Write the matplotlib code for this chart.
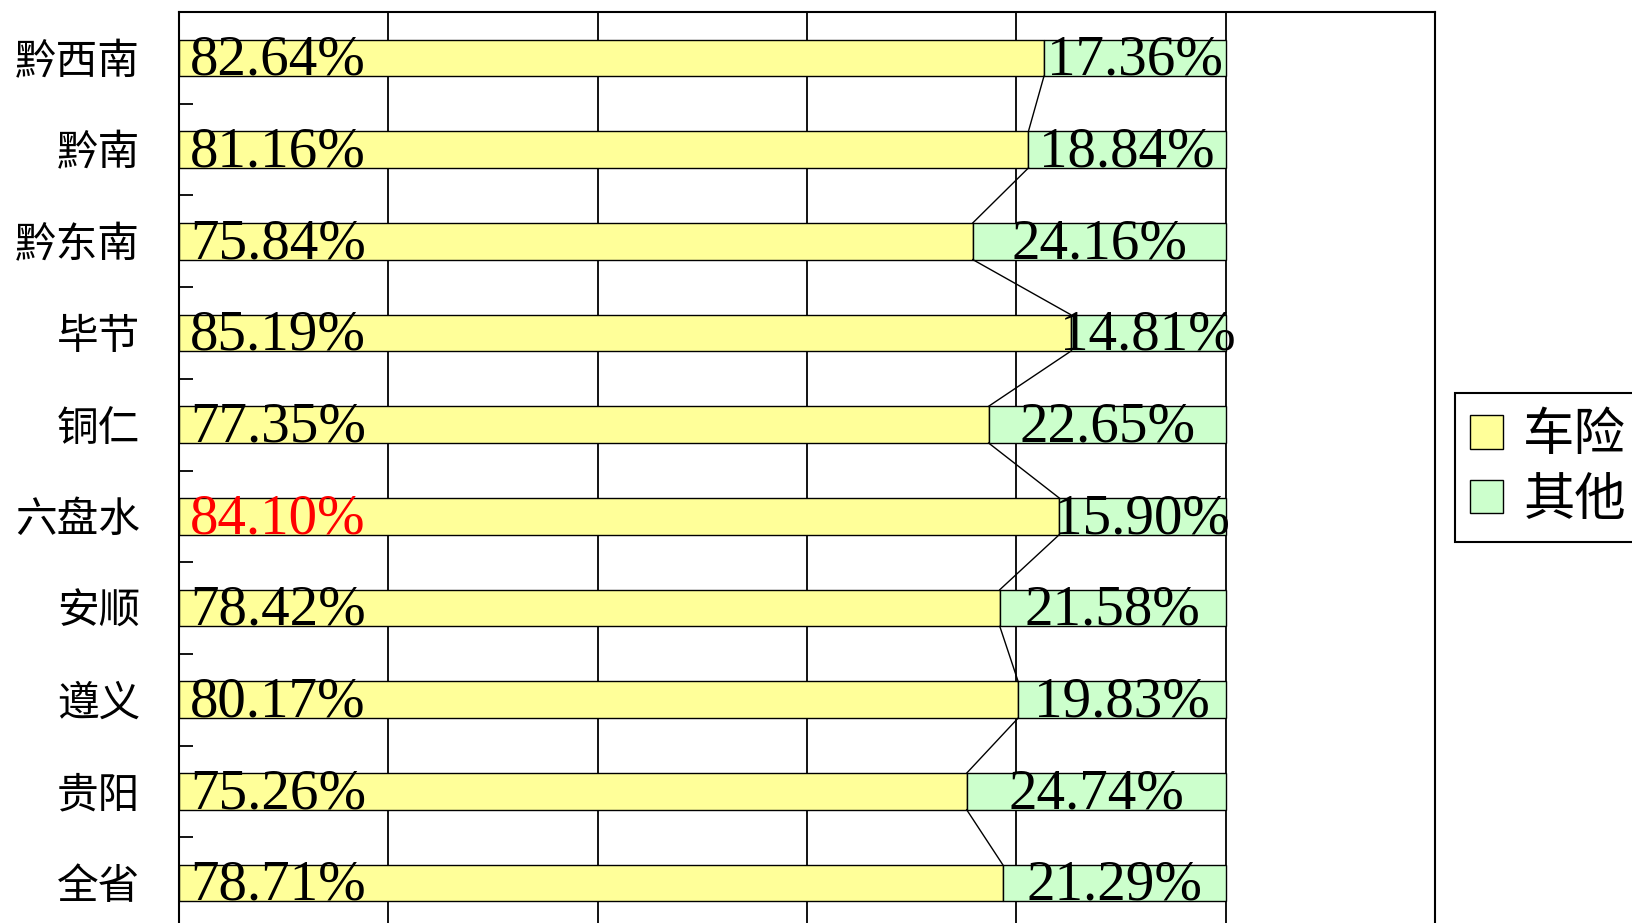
import matplotlib.pyplot as plt
import numpy as np
from matplotlib.patches import Patch

# categories listed top to bottom as in the chart
regions = ['黔西南', '黔南', '黔东南', '毕节', '铜仁', '六盘水', '安顺', '遵义', '贵阳', '全省']
car_share = [82.64, 81.16, 75.84, 85.19, 77.35, 84.10, 78.42, 80.17, 75.26, 78.71]
other_share = [17.36, 18.84, 24.16, 14.81, 22.65, 15.90, 21.58, 19.83, 24.74, 21.29]
series_names = ['车险', '其他']
colors = ['#FFFF99', '#CCFFCC']
highlight = '六盘水'

plt.rcParams['font.family'] = ['Noto Sans CJK SC', 'DejaVu Sans']

fig = plt.figure(figsize=(16.33, 9.23), dpi=100)
ax = fig.add_axes([179 / 1633, -6 / 923, 1256 / 1633, 917 / 923])

n = len(regions)
y = np.arange(n)[::-1]
bar_h = 0.4

ax.barh(y, car_share, height=bar_h, color=colors[0], edgecolor='black', linewidth=1, zorder=2)
ax.barh(y, other_share, left=car_share, height=bar_h, color=colors[1],
        edgecolor='black', linewidth=1, zorder=2)

# series lines between the ends of the yellow segments
for i in range(n - 1):
    ax.plot([car_share[i], car_share[i + 1]], [y[i] - bar_h / 2, y[i + 1] + bar_h / 2],
            color='black', linewidth=1, zorder=3)

for i in range(n):
    c = 'red' if regions[i] == highlight else 'black'
    ax.annotate(f'{car_share[i]:.2f}%', xy=(0, y[i]), xytext=(8, -2), textcoords='offset points',
                ha='left', va='center', fontsize=41, color=c, family='Liberation Serif', zorder=4)
    ax.text(car_share[i] + other_share[i] / 2, y[i] - 0.03, f'{other_share[i]:.2f}%',
            ha='center', va='center', fontsize=41, family='Liberation Serif', zorder=4)

ax.set_xlim(0, 120)
ax.set_ylim(-0.5, n - 0.5)
ax.set_xticks(np.arange(0, 121, 20))
ax.set_xticklabels([])
ax.tick_params(axis='x', length=0)
ax.grid(axis='x', color='black', linewidth=1.3, zorder=0)
ax.set_axisbelow(True)

ax.set_yticks(y)
ax.set_yticklabels(regions, fontsize=30)
ax.set_yticks(np.arange(-0.5, n, 1), minor=True)
ax.tick_params(axis='y', which='major', length=0, pad=28)
ax.tick_params(axis='y', which='minor', direction='in', length=10, width=1.3)
for s in ax.spines.values():
    s.set_linewidth(1.5)

handles = [Patch(facecolor=colors[0], edgecolor='black'), Patch(facecolor=colors[1], edgecolor='black')]
leg = fig.legend(handles, series_names, loc='upper left', bbox_to_anchor=(1455 / 1633, 1 - 393 / 923),
                 fontsize=37, handlelength=0.63, handleheight=0.63, handletextpad=0.4,
                 labelspacing=0.22, borderpad=0.3, fancybox=False, framealpha=1, borderaxespad=0)
leg.get_frame().set_edgecolor('black')
leg.get_frame().set_linewidth(1.5)

fig.savefig('out.png', dpi=100)
